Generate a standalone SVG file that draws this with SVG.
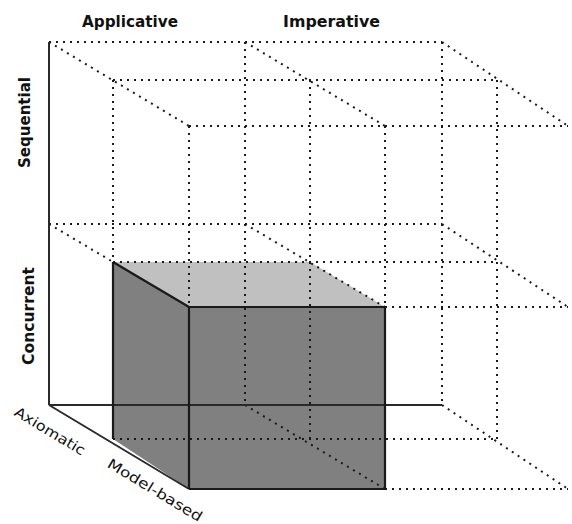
<svg xmlns="http://www.w3.org/2000/svg" width="572" height="524" viewBox="0 0 572 524">
<style>
.dot{stroke:#1a1a1a;stroke-width:2;stroke-dasharray:2 5;fill:none}
.axis{stroke:#2a2a2a;stroke-width:2;fill:none}
.edge{stroke:#1a1a1a;stroke-width:2.2;fill:none}
.lbl{font-family:"DejaVu Sans","Liberation Sans",sans-serif;font-weight:bold;font-size:15px;fill:#111}
.lbl2{font-family:"DejaVu Sans","Liberation Sans",sans-serif;font-size:14px;fill:#111}
</style>
<rect width="572" height="524" fill="#fff"/>
<g id="cube-fill">
<polygon points="113,262 189,307 189,489 113,439" fill="#808080"/>
<polygon points="113,262 310,262 385,307 189,307" fill="#c0c0c0"/>
<rect x="189" y="307" width="196" height="182" fill="#808080"/>
</g>
<g id="grid">
<line class="dot" x1="49" y1="42" x2="442" y2="42"/>
<line class="dot" x1="49" y1="224" x2="442" y2="224"/>
<line class="dot" x1="245" y1="42" x2="245" y2="405"/>
<line class="dot" x1="442" y1="42" x2="442" y2="405"/>
<line class="dot" x1="113" y1="80" x2="497" y2="80"/>
<line class="dot" x1="113" y1="262" x2="497" y2="262"/>
<line class="dot" x1="113" y1="439" x2="497" y2="439"/>
<line class="dot" x1="113" y1="80" x2="113" y2="262"/>
<line class="dot" x1="310" y1="80" x2="310" y2="439"/>
<line class="dot" x1="497" y1="80" x2="497" y2="439"/>
<line class="dot" x1="189" y1="126" x2="568" y2="126"/>
<line class="dot" x1="385" y1="307" x2="568" y2="307"/>
<line class="dot" x1="385" y1="489" x2="568" y2="489"/>
<line class="dot" x1="189" y1="126" x2="189" y2="307"/>
<line class="dot" x1="385" y1="126" x2="385" y2="307"/>
<line class="dot" x1="49" y1="42" x2="189" y2="126"/>
<line class="dot" x1="245" y1="42" x2="385" y2="126"/>
<line class="dot" x1="442" y1="42" x2="568" y2="126"/>
<line class="dot" x1="49" y1="224" x2="113" y2="262"/>
<line class="dot" x1="245" y1="224" x2="385" y2="307"/>
<line class="dot" x1="442" y1="224" x2="568" y2="307"/>
<line class="dot" x1="245" y1="405" x2="385" y2="489"/>
<line class="dot" x1="442" y1="405" x2="568" y2="489"/>
</g>
<g id="axes">
<line class="axis" x1="49" y1="42" x2="49" y2="405"/>
<line class="axis" x1="49" y1="405" x2="442" y2="405"/>
<line class="axis" x1="49" y1="405" x2="189" y2="489"/>
</g>
<g id="cube-edges">
<line class="edge" x1="113" y1="262" x2="189" y2="307"/>
<line class="edge" x1="113" y1="262" x2="113" y2="439"/>
<line class="edge" x1="189" y1="307" x2="385" y2="307"/>
<line class="edge" x1="385" y1="307" x2="385" y2="489"/>
<line class="edge" x1="189" y1="489" x2="385" y2="489"/>
<line class="edge" x1="189" y1="307" x2="189" y2="489"/>
</g>
<g id="labels">
<text id="applicative" class="lbl" x="82" y="27" textLength="96" lengthAdjust="spacingAndGlyphs">Applicative</text>
<text id="imperative" class="lbl" x="283" y="27" textLength="97" lengthAdjust="spacingAndGlyphs">Imperative</text>
<text id="sequential" class="lbl" transform="translate(30,122.5) rotate(-90)" text-anchor="middle" textLength="91" lengthAdjust="spacingAndGlyphs">Sequential</text>
<text id="concurrent" class="lbl" transform="translate(34,316) rotate(-90)" text-anchor="middle" textLength="98" lengthAdjust="spacingAndGlyphs">Concurrent</text>
<text id="axiomatic" class="lbl2" transform="translate(50,431) rotate(31)" text-anchor="middle" y="5" textLength="80" lengthAdjust="spacingAndGlyphs">Axiomatic</text>
<text id="model-based" class="lbl2" transform="translate(155,490) rotate(31)" text-anchor="middle" y="5" textLength="108" lengthAdjust="spacingAndGlyphs">Model-based</text>
</g>
</svg>
